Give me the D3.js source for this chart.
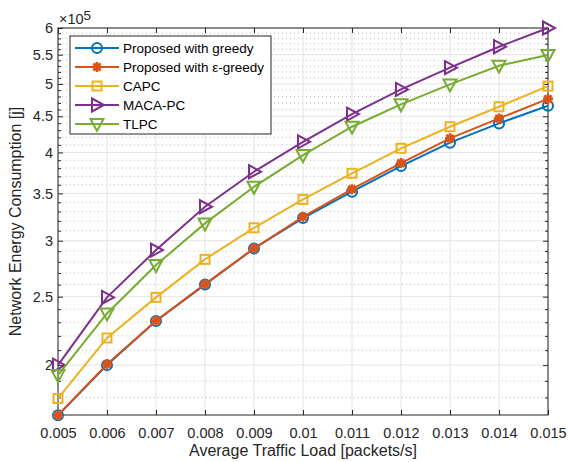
<!DOCTYPE html>
<html>
<head>
<meta charset="utf-8">
<script src="https://cdn.jsdelivr.net/npm/d3@7"></script>
<style>
	body { margin: 0; background: #fff; }
	svg { display: block; font-family: "Liberation Sans", Arial, sans-serif; }
</style>
</head>
<body>
<svg id="chart"></svg>
<script>
var width = 569,
	height = 462;

// data (energy in joules)
var loads = [0.005, 0.006, 0.007, 0.008, 0.009, 0.01, 0.011, 0.012, 0.013, 0.014, 0.015];
var greedy = [169900, 200000, 231000, 260000, 292500, 323000, 351900, 382600, 412900, 439700, 465700];
var epsGreedy = [169900, 200600, 231100, 260400, 292600, 324300, 354900, 386300, 418800, 446900, 476200];
var capc = [179400, 218500, 249400, 282300, 312900, 343200, 373700, 405400, 434900, 464200, 496500];
var macaPc = [200000, 249400, 291000, 335100, 375600, 414100, 453200, 491200, 527200, 564500, 600000];
var tlpc = [193600, 236700, 277100, 317400, 357600, 396600, 434900, 467900, 499300, 530600, 549400];

var seriesNames = ["Proposed with greedy", "Proposed with \u03b5-greedy", "CAPC", "MACA-PC", "TLPC"];
var seriesColors = ["#0072BD", "#D95319", "#EDB120", "#7E2F8E", "#77AC30"];
var seriesMarkers = ["circle", "star", "square", "triRight", "triDown"];
var seriesValues = [greedy, epsGreedy, capc, macaPc, tlpc];

var xTicks = [0.005, 0.006, 0.007, 0.008, 0.009, 0.01, 0.011, 0.012, 0.013, 0.014, 0.015];
var xTickLabels = ["0.005", "0.006", "0.007", "0.008", "0.009", "0.01", "0.011", "0.012", "0.013", "0.014", "0.015"];
var yTicks = [200000, 250000, 300000, 350000, 400000, 450000, 500000, 550000, 600000];
var yTickLabels = ["2", "2.5", "3", "3.5", "4", "4.5", "5", "5.5", "6"];

// plot box
var pLeft = 58, pRight = 548, pTop = 28, pBottom = 415;

var svg = d3.select("#chart").attr("width", width).attr("height", height);

var x = d3.scaleLinear().domain([0.005, 0.015]).range([pLeft, pRight]);
var y = d3.scaleLog().domain([170000, 600000]).range([pBottom, pTop]);

// minor values every 0.1e5
var yMinor = d3.range(18, 60).map(function (k) { return k * 10000; })
	.filter(function (v) { return yTicks.indexOf(v) < 0; });

// grid
var grid = svg.append("g");
grid.selectAll(".minor")
	.data(yMinor)
	.enter()
	.append("line")
	.attr("x1", pLeft).attr("x2", pRight)
	.attr("y1", function (d) { return y(d); })
	.attr("y2", function (d) { return y(d); })
	.style("stroke", "#bdbdbd")
	.style("stroke-width", 1)
	.style("stroke-dasharray", "1,3");
grid.selectAll(".hmaj")
	.data(yTicks)
	.enter()
	.append("line")
	.attr("x1", pLeft).attr("x2", pRight)
	.attr("y1", function (d) { return y(d); })
	.attr("y2", function (d) { return y(d); })
	.style("stroke", "#e3e3e3")
	.style("stroke-width", 1);
grid.selectAll(".vmaj")
	.data(xTicks)
	.enter()
	.append("line")
	.attr("y1", pTop).attr("y2", pBottom)
	.attr("x1", function (d) { return x(d); })
	.attr("x2", function (d) { return x(d); })
	.style("stroke", "#e3e3e3")
	.style("stroke-width", 1);

// axes (ticks inward, box)
var xAxisB = d3.axisBottom(x).tickValues(xTicks).tickSizeInner(-5).tickSizeOuter(0)
	.tickFormat(function (d, i) { return xTickLabels[i]; });
var gxB = svg.append("g").attr("transform", "translate(0," + pBottom + ")").call(xAxisB);
gxB.selectAll("text").attr("y", 13).style("font-size", "14.5px").style("fill", "#262626");

svg.append("g").attr("transform", "translate(0," + pTop + ")")
	.call(d3.axisTop(x).tickValues(xTicks).tickSizeInner(-5).tickSizeOuter(0).tickFormat(""));

var yAxisL = d3.axisLeft(y).tickValues(yTicks).tickSizeInner(-5).tickSizeOuter(0)
	.tickFormat(function (d, i) { return yTickLabels[i]; });
var gyL = svg.append("g").attr("transform", "translate(" + pLeft + ",0)").call(yAxisL);
gyL.selectAll("text").attr("x", -5).style("font-size", "14.5px").style("fill", "#262626");

svg.append("g").attr("transform", "translate(" + pRight + ",0)")
	.call(d3.axisRight(y).tickValues(yTicks).tickSizeInner(-5).tickSizeOuter(0).tickFormat(""));

svg.append("g").attr("transform", "translate(" + pLeft + ",0)")
	.call(d3.axisLeft(y).tickValues(yMinor).tickSizeInner(-3).tickSizeOuter(0).tickFormat(""));
svg.append("g").attr("transform", "translate(" + pRight + ",0)")
	.call(d3.axisRight(y).tickValues(yMinor).tickSizeInner(-3).tickSizeOuter(0).tickFormat(""));

svg.selectAll(".domain").remove();
svg.selectAll(".tick line").style("stroke", "#262626");

svg.append("rect")
	.attr("x", pLeft).attr("y", pTop)
	.attr("width", pRight - pLeft).attr("height", pBottom - pTop)
	.style("fill", "none")
	.style("stroke", "#262626")
	.style("stroke-width", 1);

// exponent
var expo = svg.append("text").attr("x", 59).attr("y", 24)
	.style("font-size", "14.5px").style("fill", "#262626");
expo.append("tspan").text("\u00d710");
expo.append("tspan").attr("dy", -4).style("font-size", "13.5px").text("5");

// axis labels
svg.append("text")
	.attr("x", (pLeft + pRight) / 2).attr("y", 456)
	.attr("text-anchor", "middle")
	.style("font-size", "16px").style("fill", "#262626")
	.text("Average Traffic Load [packets/s]");
svg.append("text")
	.attr("transform", "translate(21," + (pTop + pBottom) / 2 + ") rotate(-90)")
	.attr("text-anchor", "middle")
	.style("font-size", "16px").style("fill", "#262626")
	.text("Network Energy Consumption [j]");

// markers
function drawMarker(g, type, color) {
	if (type == "circle") {
		g.append("circle").attr("r", 5).style("fill", "none").style("stroke", color).style("stroke-width", 2);
	} else if (type == "square") {
		g.append("rect").attr("x", -4.5).attr("y", -4.5).attr("width", 9).attr("height", 9)
			.style("fill", "none").style("stroke", color).style("stroke-width", 2);
	} else if (type == "triRight") {
		g.append("path").attr("d", "M-5,-6.5L7,0L-5,6.5Z")
			.style("fill", "none").style("stroke", color).style("stroke-width", 2);
	} else if (type == "triDown") {
		g.append("path").attr("d", "M-6.5,-5L6.5,-5L0,7Z")
			.style("fill", "none").style("stroke", color).style("stroke-width", 2);
	} else if (type == "star") {
		g.append("path")
			.attr("d", "M-5,0L5,0M0,-5L0,5M-3.6,-3.6L3.6,3.6M-3.6,3.6L3.6,-3.6")
			.style("fill", "none").style("stroke", color).style("stroke-width", 2.6);
		g.append("circle").attr("r", 3).style("fill", color);
	}
}

var line = d3.line()
	.x(function (d) { return x(d[0]); })
	.y(function (d) { return y(d[1]); });

seriesValues.forEach(function (vals, i) {
	var pts = loads.map(function (l, j) { return [l, vals[j]]; });
	var sg = svg.append("g");
	sg.append("path")
		.datum(pts)
		.attr("d", line)
		.style("fill", "none")
		.style("stroke", seriesColors[i])
		.style("stroke-width", 2);
	sg.selectAll("g")
		.data(pts)
		.enter()
		.append("g")
		.attr("transform", function (d) { return "translate(" + x(d[0]) + "," + y(d[1]) + ")"; })
		.each(function () { drawMarker(d3.select(this), seriesMarkers[i], seriesColors[i]); });
});

// legend
var legend = svg.append("g");
legend.append("rect")
	.attr("x", 70).attr("y", 36).attr("width", 201).attr("height", 98)
	.style("fill", "#fff").style("stroke", "#262626").style("stroke-width", 1);
seriesNames.forEach(function (name, i) {
	var ly = 48 + i * 19;
	var lg = legend.append("g");
	lg.append("line").attr("x1", 75).attr("x2", 119).attr("y1", ly).attr("y2", ly)
		.style("stroke", seriesColors[i]).style("stroke-width", 2);
	drawMarker(lg.append("g").attr("transform", "translate(97," + ly + ")"), seriesMarkers[i], seriesColors[i]);
	lg.append("text").attr("x", 123).attr("y", ly + 5)
		.style("font-size", "13.5px").style("fill", "#000")
		.text(name);
});
</script>
</body>
</html>
